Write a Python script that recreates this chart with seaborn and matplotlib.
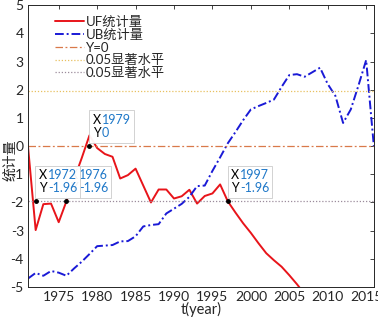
import matplotlib
matplotlib.use("Agg")
import matplotlib.pyplot as plt
import seaborn as sns
import pandas as pd

# ======= DATA =======
years = list(range(1971, 2017))
uf_values = [0.00, -2.98, -2.06, -2.04, -2.70, -1.96, -1.18, -0.42, 0.38, -0.07,
             -0.28, -0.38, -1.15, -1.03, -0.80, -1.40, -2.00, -1.54, -1.54, -1.86,
             -1.78, -1.55, -2.04, -1.77, -1.68, -1.36, -1.96, -2.36, -2.74, -3.08,
             -3.45, -3.80, -4.05, -4.28, -4.58, -4.90, -5.25, -5.50, -5.80, -6.00,
             -6.20, -6.25, -6.40, -6.60, -6.80, -6.95]
ub_values = [-4.70, -4.50, -4.60, -4.43, -4.49, -4.60, -4.34, -4.10, -3.83, -3.55,
             -3.53, -3.51, -3.38, -3.37, -3.20, -2.85, -2.80, -2.77, -2.39, -2.22,
             -2.05, -1.80, -1.42, -1.40, -0.88, -0.40, 0.10, 0.50, 0.92, 1.30,
             1.42, 1.53, 1.65, 2.10, 2.52, 2.55, 2.46, 2.62, 2.78, 2.20,
             1.78, 0.82, 1.30, 2.15, 3.05, 0.00]
sig_level = 1.96
legend_labels = ["UF统计量", "UB统计量", "Y=0", "0.05显著水平", "0.05显著水平"]
# datatips: (x, y) in the order they are drawn
datatips = [(1979, 0), (1976, -1.96), (1972, -1.96), (1997, -1.96)]
# ====================

df = pd.DataFrame({"year": years, "UF": uf_values, "UB": ub_values})

sns.set_style("white")
plt.rcParams["font.family"] = ["Lato", "Noto Sans CJK SC", "DejaVu Sans"]
plt.rcParams["axes.unicode_minus"] = False

fig = plt.figure(figsize=(3.78, 3.20), dpi=100)
ax = fig.add_axes([0.074, 0.103, 0.915, 0.881])

sns.lineplot(data=df, x="year", y="UF", ax=ax, color="#e8141a", lw=1.4,
             label=legend_labels[0])
sns.lineplot(data=df, x="year", y="UB", ax=ax, color="#1a1ad6", lw=1.4,
             linestyle=(0, (4.5, 1.5, 1, 1.5)), label=legend_labels[1])
ax.axhline(0, color="#d9794a", lw=0.9, linestyle=(0, (6, 2, 1.5, 2)),
           label=legend_labels[2])
ax.axhline(sig_level, color="#e8c060", lw=0.9, linestyle=(0, (1, 1.5)),
           label=legend_labels[3])
ax.axhline(-sig_level, color="#9c8c9c", lw=0.9, linestyle=(0, (1, 1.5)),
           label=legend_labels[4])

ax.set_xlim(1971, 2016)
ax.set_ylim(-5, 5)
ax.set_xticks(range(1975, 2016, 5))
ax.set_yticks(range(-5, 6))
ax.tick_params(direction="in", length=3, width=0.6, labelsize=10,
               top=True, right=True, colors="#262626", pad=3)
for s in ax.spines.values():
    s.set_color("#262626")
    s.set_linewidth(0.7)
ax.set_xlabel("t(year)", fontsize=10.5, labelpad=-1)
ax.set_ylabel("统计量", fontsize=10)
ax.yaxis.set_label_coords(-0.035, 0.45)

leg = ax.legend(loc="upper left", bbox_to_anchor=(0.055, 0.99), frameon=False,
                fontsize=9.5, handlelength=2.2, handletextpad=0.15,
                labelspacing=0.05, borderaxespad=0.2)

# datatips
for i, (tx, ty) in enumerate(datatips):
    ax.plot(tx, ty, "o", color="black", ms=2.5, zorder=10 + 3 * i)
    xs, ys = str(tx), "%g" % ty
    ax.annotate("X" + xs + "\nY" + ys, xy=(tx, ty), xytext=(2.5, 5),
                textcoords="offset points", fontsize=9, color="none",
                linespacing=1.1, va="bottom", ha="left",
                bbox=dict(boxstyle="square,pad=0.3", fc="white",
                          ec="#c8c8c8", lw=0.6, alpha=0.95),
                zorder=10 + 3 * i + 1)
    ax.annotate("X\nY", xy=(tx, ty), xytext=(2.5, 5),
                textcoords="offset points", fontsize=9, color="black",
                linespacing=1.1, va="bottom", ha="left", zorder=10 + 3 * i + 2)
    ax.annotate(xs + "\n" + ys, xy=(tx, ty), xytext=(9, 5),
                textcoords="offset points", fontsize=9, color="#1f78c8",
                linespacing=1.1, va="bottom", ha="left", zorder=10 + 3 * i + 2)

fig.savefig("out.png", dpi=100)
